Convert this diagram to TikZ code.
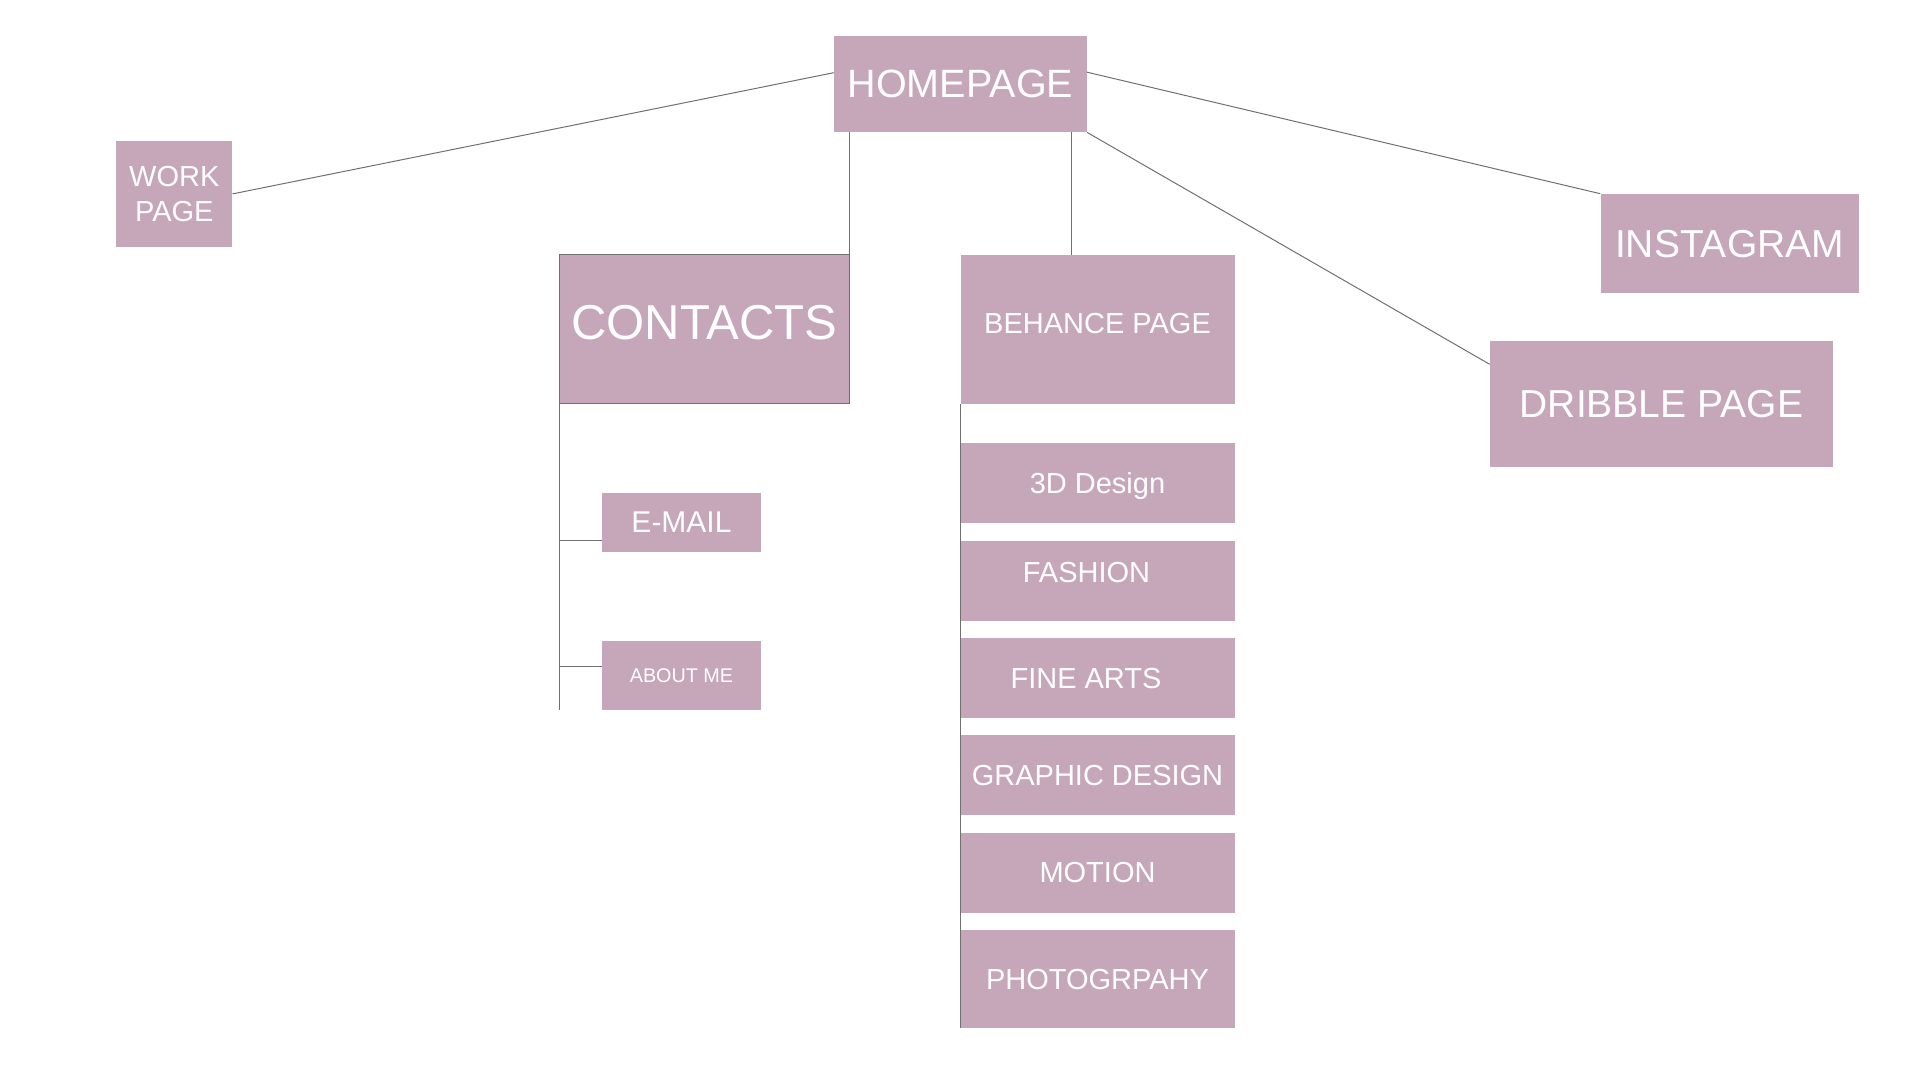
\documentclass[tikz,border=0pt]{standalone}
\usepackage{fontspec}
\setmainfont{Liberation Sans}
\usetikzlibrary{positioning}
\definecolor{mauve}{RGB}{198,166,185}
\definecolor{linegray}{RGB}{112,112,112}
\begin{document}
\begin{tikzpicture}[x=1pt, y=-1pt,
    box/.style={fill=mauve, text=white, inner sep=0pt, text depth=0pt},
    sub/.style={box, minimum width=274pt, minimum height=80pt, font=\fontsize{29}{35}\selectfont},
    wire/.style={draw=linegray, line width=1pt}]
\useasboundingbox (0,0) rectangle (1920,1080);
\node[box, minimum width=253pt, minimum height=96pt, font=\fontsize{39.5}{47}\selectfont] (home) at (960.4,84.2) {HOMEPAGE};
\node[box, minimum width=116pt, minimum height=106pt, font=\fontsize{29}{35}\selectfont, align=center] (work) at (174.3,193.9) {WORK\\PAGE};
\node[box, draw=linegray, minimum width=290pt, minimum height=149pt, text depth=12.6pt, font=\fontsize{49}{59}\selectfont] (contacts) at (704.4,328.8) {CONTACTS};
\node[box, minimum width=274pt, minimum height=149pt, text depth=11.2pt, font=\fontsize{29}{35}\selectfont] (behance) at (1097.5,329.3) {BEHANCE PAGE};
\node[box, minimum width=258pt, minimum height=99pt, font=\fontsize{39}{47}\selectfont] (insta) at (1729.5,243.4) {INSTAGRAM};
\node[box, minimum width=343pt, minimum height=125.7pt, font=\fontsize{39}{47}\selectfont] (dribble) at (1661.4,403.8) {DRIBBLE PAGE};
% contacts branch
\node[box, minimum width=159pt, minimum height=59pt, font=\fontsize{30}{36}\selectfont] (email) at (681.5,522.5) {E-MAIL};
\node[box, minimum width=159pt, minimum height=69pt, font=\fontsize{19.8}{24}\selectfont] (about) at (681.5,675.5) {ABOUT ME};
% behance column
\node[sub, below=39pt of behance] (d3) {3D Design};
\node[sub, below=17pt of d3, text depth=16pt] (fashion) {FASHION\hspace*{22pt}};
\node[sub, below=17pt of fashion] (finearts) {FINE ARTS\hspace*{23pt}};
\node[sub, below=17pt of finearts] (graphic) {GRAPHIC DESIGN};
\node[sub, below=17pt of graphic] (motion) {MOTION};
\node[sub, below=17pt of motion, minimum height=98pt] (photo) {PHOTOGRPAHY};
% connectors
\draw[wire] ([yshift=11.5pt]home.west) -- (work.east);
\draw[wire] ([yshift=12pt]home.east) -- (insta.north west);
\draw[wire] (home.south east) -- ([yshift=39.5pt]dribble.west);
\draw[wire] (contacts.north east) -- (contacts.north east |- home.south);
\draw[wire] ([xshift=-26.5pt]behance.north) -- ([xshift=-26.5pt]behance.north |- home.south);
\draw[wire] (contacts.south west) -- (contacts.south west |- about.south);
\draw[wire] ([yshift=-17.8pt]email.west) -- ([yshift=-17.8pt]email.west -| contacts.west);
\draw[wire] ([yshift=9.5pt]about.west) -- ([yshift=9.5pt]about.west -| contacts.west);
\draw[wire] (behance.south west) -- (photo.south west);
\end{tikzpicture}
\end{document}
